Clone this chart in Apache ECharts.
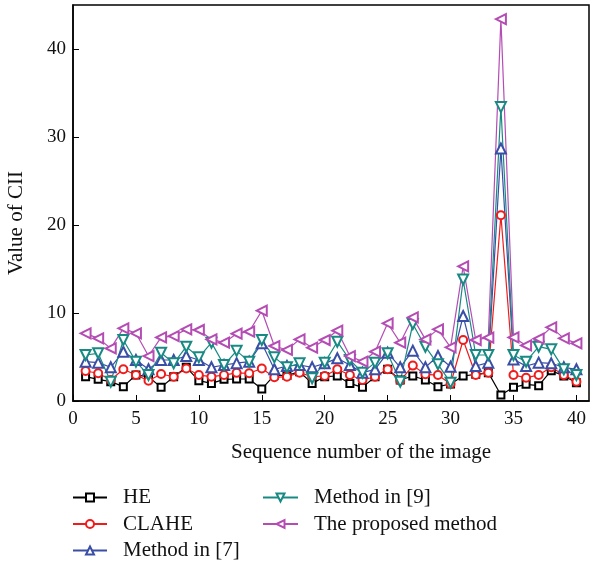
<!DOCTYPE html>
<html>
<head>
<meta charset="utf-8">
<script src="https://cdn.jsdelivr.net/npm/echarts@6/dist/echarts.min.js"></script>
<style>
  html, body { margin: 0; padding: 0; background: #fff; }
  #chart { width: 597px; height: 568px; }
</style>
</head>
<body>
<div id="chart"></div>
<script>
// image index 1..40
const seq = Array.from({ length: 40 }, (_, i) => i + 1);

const heVals = [2.76, 2.46, 2.2, 1.63, 2.95, 2.76, 1.55, 2.76, 3.83, 2.31, 2.0, 2.46, 2.5, 2.5, 1.36, 2.95, 2.9, 3.33, 2.0, 2.76,
  2.84, 2.0, 1.55, 2.76, 3.6, 2.39, 2.84, 2.39, 1.63, 1.93, 2.84, 3.03, 3.22, 0.68, 1.55, 1.89, 1.74, 3.45, 2.84, 2.08];
const claheVals = [3.41, 3.15, 2.39, 3.6, 2.95, 2.31, 3.07, 2.76, 3.7, 2.95, 2.76, 2.95, 3.2, 3.15, 3.7, 2.69, 2.76, 3.22, 2.76, 2.84,
  3.6, 2.95, 2.39, 2.76, 3.6, 2.3, 4.02, 3.03, 2.95, 1.93, 6.93, 2.95, 3.22, 21.1, 2.95, 2.65, 2.95, 3.83, 2.95, 2.2];
const m7Vals = [4.47, 4.36, 3.83, 5.6, 4.66, 3.6, 4.66, 4.66, 5.11, 4.66, 3.83, 4.09, 4.3, 4.47, 6.55, 3.6, 3.98, 4.09, 3.83, 4.28,
  4.85, 4.09, 3.22, 3.6, 5.49, 3.83, 5.72, 3.83, 5.11, 3.9, 9.66, 3.98, 4.36, 28.7, 4.73, 3.98, 4.36, 4.28, 3.83, 3.6];
const m9Vals = [5.23, 5.42, 2.2, 6.93, 4.47, 2.95, 5.49, 4.28, 6.17, 4.96, 6.63, 4.09, 5.7, 4.47, 6.93, 4.96, 3.83, 4.28, 2.58, 4.36,
  6.74, 4.66, 3.22, 4.36, 5.42, 2.2, 8.75, 6.17, 4.17, 2.08, 13.8, 5.23, 5.23, 33.4, 5.23, 4.47, 6.17, 5.87, 3.6, 2.95];
const propVals = [7.69, 7.12, 5.98, 8.26, 7.69, 5.11, 7.23, 7.38, 8.14, 8.07, 7.0, 6.63, 7.65, 7.88, 10.26, 6.25, 5.8, 7.0, 6.06, 6.93,
  7.99, 5.11, 4.47, 5.6, 8.83, 6.63, 9.5, 7.0, 8.14, 6.1, 15.3, 6.93, 7.2, 43.4, 7.23, 6.32, 7.08, 8.37, 7.12, 6.55];

const names = ['HE', 'CLAHE', 'Method in [7]', 'Method in [9]', 'The proposed method'];
const colors = ['#000000', '#f01c1c', '#3a4ea6', '#188a84', '#b44cb4'];

const font = '"Liberation Serif", "DejaVu Serif", serif';

function mkSeries(name, vals, color, symbol, size, rotate) {
  return {
    name,
    type: 'line',
    data: seq.map((x, i) => [x, vals[i]]),
    symbol,
    symbolSize: size,
    symbolRotate: rotate,
    lineStyle: { color, width: 1.2 },
    itemStyle: { color, borderColor: color, borderWidth: 1.2 },
    emphasis: { disabled: true }
  };
}

const legendText = { fontSize: 21, color: '#111', fontFamily: font, lineHeight: 21, padding: [0, 0, 0, 11] };

const chart = echarts.init(document.getElementById('chart'));

const option = {
  animation: false,
  textStyle: { fontFamily: font },
  grid: {
    left: 73, right: 8, top: 5, bottom: 167,
    outerBoundsMode: 'none',
    show: true, borderColor: '#000', borderWidth: 1.5
  },
  xAxis: {
    type: 'value',
    min: 0, max: 41, interval: 5,
    name: 'Sequence number of the image',
    nameLocation: 'middle',
    nameGap: 41,
    nameTextStyle: { fontSize: 21, color: '#111', fontFamily: font, padding: [0, 0, 0, 60] },
    axisLine: { lineStyle: { color: '#000', width: 1.5 } },
    axisTick: { inside: true, length: 6, lineStyle: { color: '#000' } },
    axisLabel: { fontSize: 19, color: '#111', fontFamily: font, margin: 9, showMaxLabel: false },
    splitLine: { show: false }
  },
  yAxis: {
    type: 'value',
    min: 0, max: 45, interval: 10,
    name: 'Value of CII',
    nameLocation: 'middle',
    nameGap: 46,
    nameTextStyle: { fontSize: 21, color: '#111', fontFamily: font, padding: [0, 40, 0, 0] },
    axisLine: { lineStyle: { color: '#000', width: 1.5 } },
    axisTick: { inside: true, length: 6, lineStyle: { color: '#000' } },
    axisLabel: { fontSize: 19, color: '#111', fontFamily: font, margin: 7, showMaxLabel: false },
    splitLine: { show: false }
  },
  legend: [
    {
      data: names.slice(0, 3),
      orient: 'vertical',
      left: 72, top: 487, padding: 0,
      itemWidth: 34, itemHeight: 10, itemGap: 5.5,
      textStyle: legendText,
      selectedMode: false
    },
    {
      data: names.slice(3),
      orient: 'vertical',
      left: 262, top: 487, padding: 0,
      itemWidth: 35, itemHeight: 10, itemGap: 5.5,
      textStyle: legendText,
      selectedMode: false
    }
  ],
  series: [
    mkSeries(names[0], heVals, colors[0], 'emptyRect', 7, 0),
    mkSeries(names[1], claheVals, colors[1], 'emptyCircle', 8, 0),
    mkSeries(names[2], m7Vals, colors[2], 'emptyTriangle', 10, 0),
    mkSeries(names[3], m9Vals, colors[3], 'emptyTriangle', 10, 180),
    mkSeries(names[4], propVals, colors[4], 'emptyTriangle', 10, 90)
  ]
};

chart.setOption(option);
</script>
</body>
</html>
